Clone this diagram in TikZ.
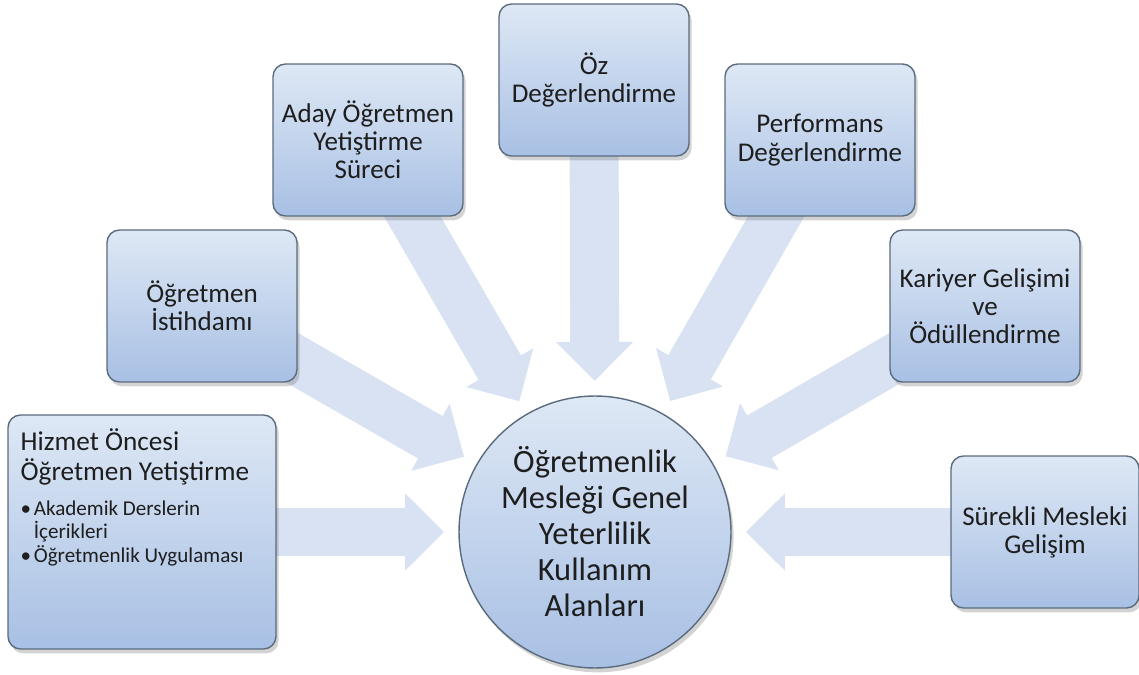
\documentclass[tikz,border=0pt]{standalone}
\usepackage{fontspec}
\setmainfont{Carlito}
\usetikzlibrary{calc,positioning,shadows,backgrounds,arrows.meta}

\definecolor{kutuust}{HTML}{DEE8F5}
\definecolor{kutualt}{HTML}{A8C0E4}
\definecolor{kenar}{HTML}{5B6B7E}
\definecolor{okrenk}{HTML}{D8E2F2}
\definecolor{yazi}{HTML}{1E1E1E}

\tikzset{
	kutu/.style={draw=kenar, line width=0.8pt, rounded corners=0.25cm,
		top color=kutuust, bottom color=kutualt,
		minimum width=3.8cm, minimum height=3.04cm, align=center, text=yazi,
		font=\fontsize{15.4}{16}\selectfont,
		drop shadow={shadow xshift=1.5pt, shadow yshift=-2.5pt, opacity=0.35}},
	merkez/.style={circle, draw=kenar, line width=0.8pt,
		top color=kutuust, bottom color=kutualt,
		minimum size=5.44cm, inner sep=0pt, align=center, text=yazi,
		font=\fontsize{18.5}{20.5}\selectfont,
		drop shadow={shadow xshift=1.5pt, shadow yshift=-2.5pt, opacity=0.35}},
	ok/.style={draw=okrenk, line width=0.98cm, -{Triangle[width=1.5cm,length=0.78cm]}}
}

\begin{document}
\begin{tikzpicture}[x=0.02cm,y=-0.02cm]
	\useasboundingbox (0,0) rectangle (1139,675);

	\node [merkez](merkez) at (595,532) {Öğretmenlik\\Mesleği Genel\\Yeterlilik\\Kullanım\\Alanları};

	\node [kutu, minimum width=5.36cm, minimum height=4.68cm](hizmet) at (142,532) {};
	\node [kutu](istihdam) at (202,306) {Öğretmen\\İstihdamı};
	\node [kutu](aday) at (368,140) {Aday Öğretmen\\Yetiştirme\\Süreci};
	\node [kutu](oz) at (594,80) {Öz\\Değerlendirme};
	\node [kutu](perf) at (820,140) {Performans\\Değerlendirme};
	\node [kutu](kariyer) at (985,306) {Kariyer Gelişimi\\ve\\Ödüllendirme};
	\node [kutu, minimum width=3.76cm](surekli) at (1045,532) {Sürekli Mesleki\\Gelişim};

	% hizmet oncesi kutusunun yazilari
	\node [anchor=north west, align=left, inner sep=0pt, text=yazi, font=\fontsize{15.5}{16.8}\selectfont]
		(hizmetbaslik) at ($(hizmet.north west)+(13,14)$) {Hizmet Öncesi\\Öğretmen Yetiştirme};
	\node [below=0.3cm of hizmetbaslik.south west, anchor=north west, align=left, inner sep=0pt,
		text=yazi, font=\fontsize{12}{13.4}\selectfont]
		(hizmetmadde) {•\hspace{1.5pt}Akademik Derslerin\\\hphantom{•\hspace{1.5pt}}İçerikleri\\•\hspace{1.5pt}Öğretmenlik Uygulaması};

	\begin{scope}[on background layer]
		\foreach \k in {hizmet,istihdam,aday,oz,perf,kariyer,surekli}
			\draw [ok] (\k.center) -- ($(merkez.center)!3.02cm!(\k.center)$);
	\end{scope}
\end{tikzpicture}
\end{document}
